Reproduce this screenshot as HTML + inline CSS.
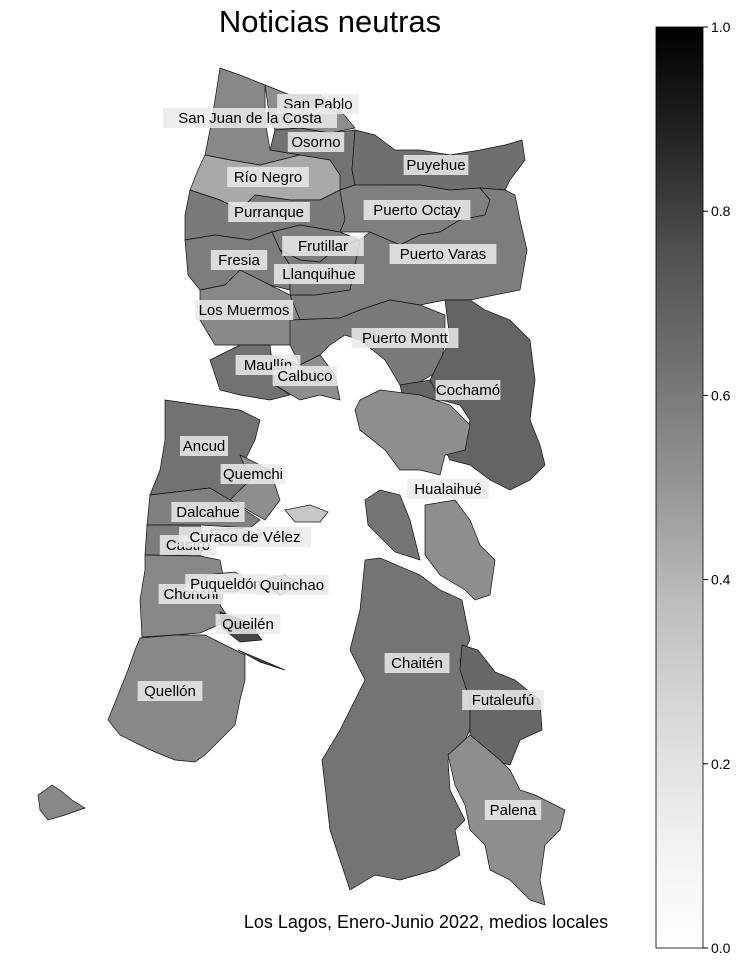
<!DOCTYPE html>
<html><head><meta charset="utf-8"><style>
html,body{margin:0;padding:0;background:#fff;}
svg{display:block;font-family:"Liberation Sans","DejaVu Sans",sans-serif;}
</style></head><body>
<svg id="chart" width="744" height="968" viewBox="0 0 744 968">
<defs><linearGradient id="cbgrad" x1="0" y1="1" x2="0" y2="0">
<stop offset="0" stop-color="#ffffff"/><stop offset="0.125" stop-color="#f0f0f0"/><stop offset="0.25" stop-color="#d9d9d9"/><stop offset="0.375" stop-color="#bdbdbd"/><stop offset="0.5" stop-color="#969696"/><stop offset="0.625" stop-color="#737373"/><stop offset="0.75" stop-color="#525252"/><stop offset="0.875" stop-color="#252525"/><stop offset="1" stop-color="#000000"/></linearGradient></defs>
<text x="330" y="32" font-size="31" text-anchor="middle">Noticias neutras</text>
<g id="regions"></g>
<g id="labels"></g>
<text x="426" y="928" font-size="18" text-anchor="middle">Los Lagos, Enero-Junio 2022, medios locales</text>
<rect x="656" y="27" width="47" height="921" fill="url(#cbgrad)" stroke="#000" stroke-width="0.8"/>
<g id="cbticks"></g>
</svg>
<script>
const comunas=["San Pablo","San Juan de la Costa","Osorno","Puyehue","Río Negro","Purranque","Puerto Octay","Puerto Varas","Frutillar","Fresia","Llanquihue","Los Muermos","Puerto Montt","Maullín","Calbuco","Cochamó","Hualaihué","Ancud","Quemchi","Dalcahue","Castro","Curaco de Vélez","Chonchi","Puqueldón","Quinchao","Queilén","Quellón","Chaitén","Futaleufú","Palena"];
const values=[0.53,0.55,0.63,0.64,0.44,0.60,0.58,0.59,0.59,0.59,0.60,0.55,0.60,0.63,0.53,0.68,0.53,0.63,0.53,0.58,0.59,0.35,0.55,0.33,0.33,0.78,0.55,0.62,0.67,0.53];
const cbTicks=[0.0,0.2,0.4,0.6,0.8,1.0];
const shapes={
"San Pablo":[[[265,85],[290,95],[320,95],[340,110],[355,128],[330,133],[300,128],[275,130],[270,120]]],
"San Juan de la Costa":[[[220,68],[240,75],[265,85],[265,120],[270,150],[300,155],[260,165],[230,160],[205,155],[210,130],[215,100]]],
"Osorno":[[[275,130],[300,128],[330,133],[355,130],[352,170],[355,185],[340,190],[330,170],[300,155],[270,150]]],
"Puyehue":[[[355,130],[375,135],[395,150],[420,150],[450,155],[480,150],[505,145],[522,140],[525,160],[510,180],[505,190],[480,188],[450,190],[420,185],[385,185],[370,188],[355,185],[352,170]]],
"Río Negro":[[[205,155],[230,160],[260,165],[300,155],[330,160],[340,175],[340,190],[320,200],[290,200],[255,195],[240,210],[220,200],[190,190],[198,170]]],
"Purranque":[[[190,190],[220,200],[240,210],[255,195],[290,200],[320,200],[340,190],[345,220],[340,232],[300,225],[272,232],[250,240],[215,235],[185,240],[185,215]]],
"Puerto Octay":[[[355,185],[385,185],[420,185],[450,190],[480,188],[490,200],[485,215],[460,220],[440,232],[420,235],[400,245],[370,232],[340,232],[345,220],[340,190]]],
"Puerto Varas":[[[480,188],[505,190],[515,195],[520,220],[527,250],[520,290],[470,300],[445,300],[420,305],[390,300],[360,310],[340,318],[290,320],[290,295],[315,295],[350,290],[360,240],[370,232],[400,245],[420,235],[440,232],[460,220],[485,215],[490,200]]],
"Frutillar":[[[272,232],[300,225],[340,232],[360,240],[340,245],[320,262],[300,260],[280,250]]],
"Fresia":[[[185,240],[215,235],[250,240],[272,232],[280,250],[290,265],[290,290],[270,285],[240,270],[225,285],[200,290],[188,275]]],
"Llanquihue":[[[280,250],[300,260],[320,262],[340,245],[360,240],[350,290],[315,295],[290,295],[290,265]]],
"Los Muermos":[[[200,290],[225,285],[240,270],[270,285],[290,295],[300,320],[290,345],[270,345],[240,345],[215,345],[200,320]]],
"Puerto Montt":[[[290,320],[340,318],[360,310],[390,300],[420,305],[445,315],[445,340],[440,370],[415,385],[400,385],[385,360],[360,340],[345,335],[330,345],[320,355],[300,365],[290,345]]],
"Maullín":[[[210,360],[240,345],[270,345],[275,385],[290,395],[270,400],[240,395],[220,390],[215,375]]],
"Calbuco":[[[270,355],[300,365],[320,355],[335,375],[340,400],[320,395],[300,400],[275,385]]],
"Cochamó":[[[445,300],[470,300],[485,310],[510,320],[530,340],[535,380],[530,420],[540,445],[545,465],[530,480],[510,490],[490,480],[470,465],[450,460],[445,450],[465,440],[470,420],[460,405],[440,400],[430,380],[440,360],[450,340]],[[400,385],[430,380],[440,400],[420,410],[405,405]]],
"Hualaihué":[[[360,400],[380,390],[420,395],[450,405],[470,425],[465,450],[445,455],[440,475],[420,470],[400,470],[385,450],[360,430],[355,410]],[[425,505],[455,500],[470,520],[480,545],[495,560],[490,595],[475,600],[465,590],[440,575],[425,555],[425,520]]],
"Ancud":[[[165,400],[200,405],[240,410],[260,420],[255,440],[245,460],[250,480],[230,500],[210,488],[150,495],[160,470],[165,440]]],
"Quemchi":[[[240,455],[270,470],[280,500],[265,520],[230,500],[250,480]]],
"Dalcahue":[[[150,495],[210,488],[230,500],[260,520],[250,528],[200,525],[147,525]]],
"Castro":[[[147,525],[200,525],[205,545],[200,556],[145,555]]],
"Curaco de Vélez":[[[210,530],[240,528],[262,535],[250,545],[220,545]]],
"Chonchi":[[[145,555],[200,556],[220,560],[225,585],[220,605],[230,620],[200,633],[175,635],[142,637],[140,600],[145,570]]],
"Puqueldón":[[[205,575],[235,572],[250,582],[235,592],[210,590]]],
"Quinchao":[[[285,510],[310,505],[328,512],[320,522],[295,522]],[[260,580],[285,575],[300,585],[280,595]]],
"Queilén":[[[220,612],[248,622],[262,640],[240,642],[222,628]],[[238,650],[285,670],[260,662]]],
"Quellón":[[[140,638],[175,635],[205,635],[225,645],[245,655],[245,680],[240,700],[235,725],[220,740],[205,755],[195,762],[175,760],[155,752],[140,745],[120,735],[108,720],[128,670],[135,650]],[[38,795],[52,785],[60,790],[72,800],[85,808],[65,815],[48,820],[40,810]]],
"Chaitén":[[[365,560],[380,558],[420,575],[440,590],[462,600],[470,640],[460,660],[470,700],[470,730],[460,750],[448,760],[450,790],[465,820],[455,830],[460,855],[435,870],[400,880],[375,875],[350,890],[330,830],[322,760],[340,730],[355,700],[365,680],[350,650],[360,610]],[[365,500],[380,490],[400,495],[410,520],[420,560],[395,552],[368,525]]],
"Futaleufú":[[[462,645],[478,650],[495,672],[515,680],[540,700],[542,730],[520,740],[510,765],[490,760],[470,735],[470,700],[460,670]]],
"Palena":[[[448,755],[470,735],[500,760],[510,770],[520,790],[535,795],[565,810],[560,830],[545,845],[540,880],[545,905],[530,900],[510,880],[490,870],[485,845],[470,830],[465,805],[455,785]]]
};
const labelPos={"San Pablo":[318,104],"San Juan de la Costa":[250,118],"Osorno":[316,142],"Puyehue":[436,165],"Río Negro":[268,177],"Purranque":[269,212],"Puerto Octay":[417,210],"Puerto Varas":[443,254],"Frutillar":[323,246],"Fresia":[239,260],"Llanquihue":[319,274],"Los Muermos":[244,310],"Puerto Montt":[405,338],"Maullín":[268,365],"Calbuco":[305,376],"Cochamó":[468,390],"Hualaihué":[448,489],"Ancud":[204,446],"Quemchi":[253,474],"Dalcahue":[208,512],"Castro":[188,545],"Curaco de Vélez":[245,537],"Chonchi":[191,594],"Puqueldón":[226,584],"Quinchao":[292,585],"Queilén":[248,624],"Quellón":[170,691],"Chaitén":[417,663],"Futaleufú":[503,700],"Palena":[513,810]};
const stops=[255,240,217,189,150,115,82,37,0];
function colorScale(v){v=Math.max(0,Math.min(1,v));const p=v*8,i=Math.min(7,Math.floor(p)),f=p-i;const g=Math.round(stops[i]+(stops[i+1]-stops[i])*f);return `rgb(${g},${g},${g})`;}
const cbY=v=>948-v*921;
const NS="http://www.w3.org/2000/svg";
const rg=document.getElementById('regions'),lg=document.getElementById('labels'),tg=document.getElementById('cbticks');
comunas.forEach((c,i)=>{
  (shapes[c]||[]).forEach(poly=>{
    const p=document.createElementNS(NS,'polygon');
    p.setAttribute('points',poly.map(q=>q.join(',')).join(' '));
    p.setAttribute('fill',colorScale(values[i]));
    p.setAttribute('stroke','#111');p.setAttribute('stroke-width','0.7');
    
    
    rg.appendChild(p);
  });
});
comunas.forEach(c=>{
  const [x,y]=labelPos[c];
  const w=c.length*8.4+6;
  const r=document.createElementNS(NS,'rect');
  r.setAttribute('x',x-w/2);r.setAttribute('y',y-10);r.setAttribute('width',w);r.setAttribute('height',20);
  r.setAttribute('fill','rgba(235,235,235,0.85)');
  
  
  lg.appendChild(r);
  const t=document.createElementNS(NS,'text');
  t.setAttribute('x',x);t.setAttribute('y',y+5);t.setAttribute('font-size','15');t.setAttribute('text-anchor','middle');
  t.textContent=c;
  
  
  lg.appendChild(t);
});
cbTicks.forEach(v=>{
  const y=cbY(v);
  const l=document.createElementNS(NS,'line');
  l.setAttribute('x1',703);l.setAttribute('x2',708);l.setAttribute('y1',y);l.setAttribute('y2',y);l.setAttribute('stroke','#000');
  
  
  tg.appendChild(l);
  const t=document.createElementNS(NS,'text');
  t.setAttribute('x',711);t.setAttribute('y',y+5);t.setAttribute('font-size','14');
  t.textContent=v.toFixed(1);
  
  
  tg.appendChild(t);
});
</script>
</body></html>
